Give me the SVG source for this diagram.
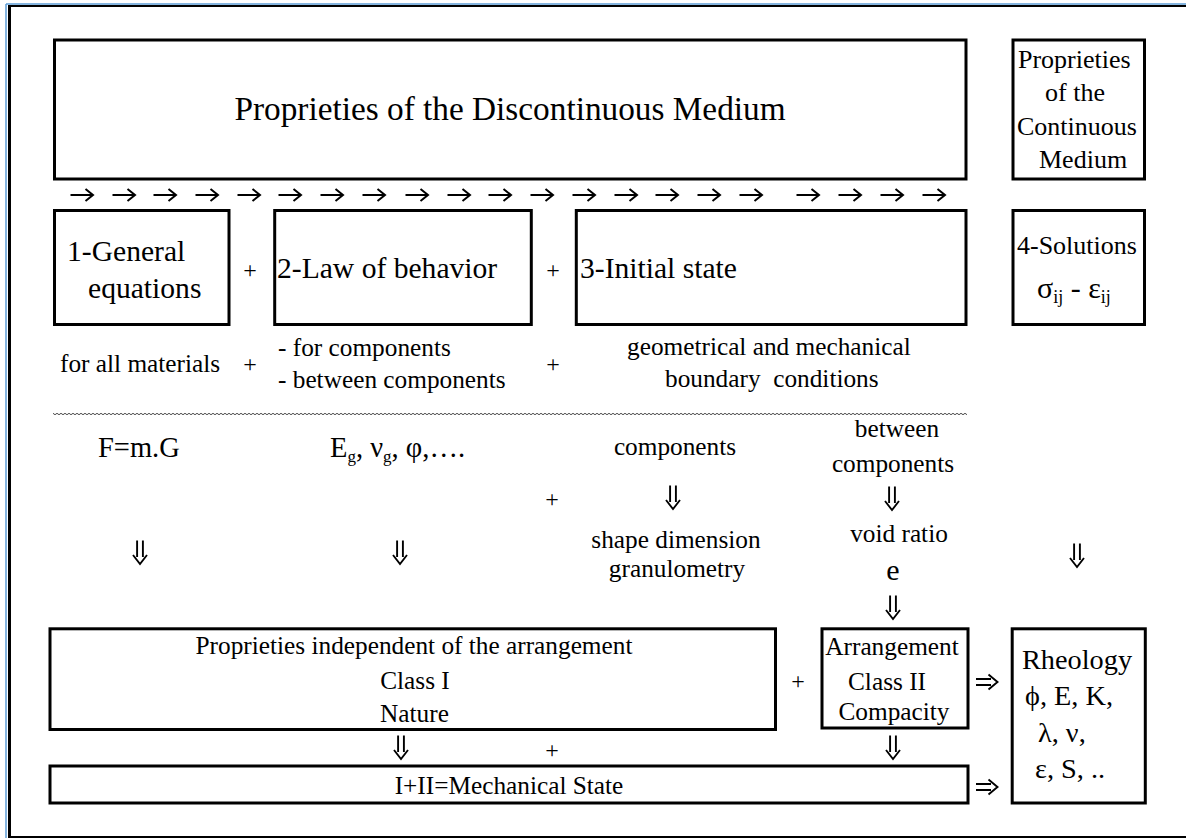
<svg xmlns="http://www.w3.org/2000/svg" width="1186" height="838" viewBox="0 0 1186 838">
<style>
  .box { fill: #ffffff; stroke: #000000; stroke-width: 3; }
  .t { font-family: "Liberation Serif", "Times New Roman", "DejaVu Serif", serif; fill: #000000; }
  .big { font-size: 33.3px; }
  .lab { font-size: 29.6px; }
  .med { font-size: 26px; }
  .sm { font-size: 25.3px; }
  .plus { font-size: 24px; text-anchor: middle; }
  .mid { text-anchor: middle; }
  .arr { fill: none; stroke: #000000; stroke-width: 2; stroke-linecap: butt; stroke-linejoin: miter; }
  .arr2 { fill: none; stroke: #000000; stroke-width: 1.9; }
</style>
<defs>
  <g id="ra">
    <path class="arr" d="M-11.5 0 H10.5 M3.5 -6 L11 0 L3.5 6"/>
  </g>
  <g id="dda">
    <path class="arr2" d="M-2.9 -11.5 V5 M2.9 -11.5 V5 M-7 3 L0 12 L7 3"/>
  </g>
  <g id="dra">
    <path class="arr2" d="M-11 -3 H4 M-11 3 H4 M1.5 -7.5 L10.5 0 L1.5 7.5"/>
  </g>
  <pattern id="wave" width="4" height="4" patternUnits="userSpaceOnUse">
    <path d="M0 2 Q1 0.6 2 2 T4 2" fill="none" stroke="#333333" stroke-width="0.9"/>
  </pattern>
</defs>

<rect x="0" y="0" width="1186" height="838" fill="#ffffff"/>

<!-- page frame -->
<g id="frame">
  <line x1="6" y1="4" x2="1186" y2="4" stroke="#5b9bd5" stroke-width="1.5"/>
  <line x1="6" y1="4" x2="6" y2="838" stroke="#5b9bd5" stroke-width="1.5"/>
  <line x1="8" y1="6" x2="1186" y2="6" stroke="#000000" stroke-width="2"/>
  <line x1="9.5" y1="5" x2="9.5" y2="838" stroke="#000000" stroke-width="3"/>
  <line x1="8" y1="837" x2="1186" y2="837" stroke="#000000" stroke-width="2"/>
</g>

<g id="discontinuous">
  <rect class="box" x="54.5" y="40" width="911.5" height="139"/>
  <text class="t big mid" x="510" y="120">Proprieties of the Discontinuous Medium</text>
</g>

<g id="continuous">
  <rect class="box" x="1013" y="40" width="131.5" height="139"/>
  <text class="t med" x="1018" y="68">Proprieties</text>
  <text class="t med" x="1045" y="101">of the</text>
  <text class="t med" x="1017" y="135">Continuous</text>
  <text class="t med" x="1039" y="168">Medium</text>
</g>

<g id="general-equations">
  <rect class="box" x="54.5" y="210.5" width="174.5" height="114"/>
  <text class="t lab" x="67" y="261">1-General</text>
  <text class="t lab" x="88" y="298">equations</text>
</g>

<g id="law-of-behavior">
  <rect class="box" x="274.7" y="210.5" width="256.6" height="114"/>
  <text class="t lab" x="277" y="278">2-Law of behavior</text>
</g>

<g id="initial-state">
  <rect class="box" x="576.3" y="210.5" width="389.7" height="114"/>
  <text class="t lab" x="580" y="278">3-Initial state</text>
</g>

<g id="solutions">
  <rect class="box" x="1013" y="210.5" width="131.5" height="114"/>
  <text class="t med" x="1017" y="254">4-Solutions</text>
  <text class="t" x="1037" y="298" font-size="30">σ<tspan font-size="18" dy="5">ij</tspan><tspan dy="-5"> - ε</tspan><tspan font-size="18" dy="5">ij</tspan></text>
</g>

<g id="row-notes">
  <text class="t plus" x="250" y="278">+</text>
  <text class="t plus" x="553" y="278">+</text>
  <text class="t sm" x="60" y="372">for all materials</text>
  <text class="t plus" x="250" y="372">+</text>
  <text class="t sm" x="278" y="356">- for components</text>
  <text class="t sm" x="278" y="388">- between components</text>
  <text class="t plus" x="553" y="372">+</text>
  <text class="t sm" x="627" y="355">geometrical and mechanical</text>
  <text class="t sm" x="665" y="387" xml:space="preserve">boundary  conditions</text>
</g>

<g id="separator">
  <rect x="53" y="411" width="914" height="4" fill="url(#wave)"/>
</g>

<g id="parameters">
  <text class="t" x="98" y="457" font-size="28.5">F=m.G</text>
  <text class="t" x="330" y="457" font-size="28.5">E<tspan font-size="17" dy="5">g</tspan><tspan dy="-5">, ν</tspan><tspan font-size="17" dy="5">g</tspan><tspan dy="-5">, φ,….</tspan></text>
  <text class="t sm mid" x="675" y="455">components</text>
  <text class="t plus" x="552" y="507">+</text>
  <text class="t sm mid" x="676" y="548">shape dimension</text>
  <text class="t sm mid" x="677" y="577">granulometry</text>
  <text class="t sm mid" x="897" y="437">between</text>
  <text class="t sm mid" x="893" y="472">components</text>
  <text class="t sm mid" x="899" y="542">void ratio</text>
  <text class="t mid" x="893" y="580" font-size="30">e</text>
</g>

<g id="independent">
  <rect class="box" x="50" y="628.8" width="725.5" height="100.7"/>
  <text class="t sm mid" x="414" y="654">Proprieties independent of the arrangement</text>
  <text class="t sm mid" x="415" y="689">Class I</text>
  <text class="t sm mid" x="414.5" y="722">Nature</text>
</g>

<g id="arrangement">
  <rect class="box" x="822" y="628.8" width="146" height="99.2"/>
  <text class="t sm mid" x="892" y="655">Arrangement</text>
  <text class="t sm mid" x="887" y="690">Class II</text>
  <text class="t sm mid" x="894" y="720">Compacity</text>
</g>

<g id="mechanical-state">
  <rect class="box" x="50" y="766" width="918" height="37"/>
  <text class="t sm mid" x="509" y="794">I+II=Mechanical State</text>
</g>

<g id="rheology">
  <rect class="box" x="1012.2" y="628.8" width="133.1" height="174.2"/>
  <text class="t" x="1022" y="669" font-size="28.3">Rheology</text>
  <text class="t" x="1025" y="705" font-size="28.3">ϕ, E, K,</text>
  <text class="t" x="1038" y="742" font-size="28.3">λ, ν,</text>
  <text class="t" x="1035" y="778" font-size="28.3">ε, S, ..</text>
</g>

<g id="bottom-notes">
  <text class="t plus" x="552" y="758">+</text>
  <text class="t plus" x="798" y="689">+</text>
</g>

<g id="connectors">
  <use href="#ra" x="82" y="195"/>
  <use href="#ra" x="124" y="195"/>
  <use href="#ra" x="165" y="195"/>
  <use href="#ra" x="207" y="195"/>
  <use href="#ra" x="249" y="195"/>
  <use href="#ra" x="290" y="195"/>
  <use href="#ra" x="332" y="195"/>
  <use href="#ra" x="374" y="195"/>
  <use href="#ra" x="417" y="195"/>
  <use href="#ra" x="459" y="195"/>
  <use href="#ra" x="500" y="195"/>
  <use href="#ra" x="542" y="195"/>
  <use href="#ra" x="584" y="195"/>
  <use href="#ra" x="626" y="195"/>
  <use href="#ra" x="667" y="195"/>
  <use href="#ra" x="709" y="195"/>
  <use href="#ra" x="751" y="195"/>
  <use href="#ra" x="808" y="195"/>
  <use href="#ra" x="850" y="195"/>
  <use href="#ra" x="892" y="195"/>
  <use href="#ra" x="934" y="195"/>

  <use href="#dda" x="140" y="552"/>
  <use href="#dda" x="400" y="552"/>
  <use href="#dda" x="673" y="497"/>
  <use href="#dda" x="892" y="498"/>
  <use href="#dda" x="893" y="607"/>
  <use href="#dda" x="1077" y="555"/>
  <use href="#dda" x="401" y="747"/>
  <use href="#dda" x="893" y="747"/>

  <use href="#dra" x="987" y="682"/>
  <use href="#dra" x="987" y="787"/>
</g>
</svg>
